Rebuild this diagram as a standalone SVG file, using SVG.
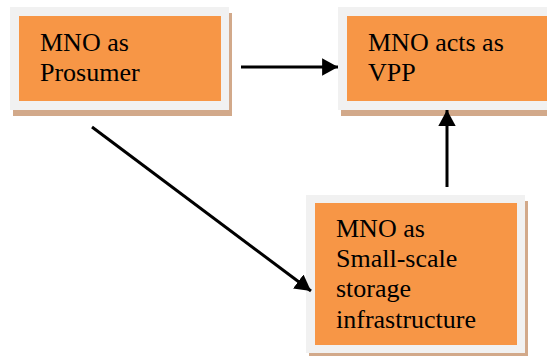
<svg xmlns="http://www.w3.org/2000/svg" width="547" height="356" viewBox="0 0 547 356">
<style>
.shadow{fill:#d2a98a;}
.frame{fill:#f1f1f1;}
.fill{fill:#f79646;}
.t{font-family:"Liberation Serif","Times New Roman",serif;font-size:26px;fill:#000;}
.c{stroke:#000;stroke-width:3;fill:none;}
</style>
<defs>
<marker id="ah" viewBox="0 0 10 10" refX="10" refY="5" markerWidth="5.3" markerHeight="5.8" markerUnits="strokeWidth" orient="auto" preserveAspectRatio="none">
<path d="M0,0 L10,5 L0,10 z" fill="#000"/>
</marker>
</defs>
<rect width="547" height="356" fill="#fff"/>
<g id="n1">
<rect class="shadow" x="13" y="13" width="219" height="103"/>
<rect class="frame" x="10" y="7" width="219" height="103"/>
<rect class="fill" x="19" y="16" width="202" height="85"/>
<text class="t" x="40" y="51">MNO as</text>
<text class="t" x="40" y="81">Prosumer</text>
</g>
<g id="n2">
<rect class="shadow" x="341" y="13" width="206" height="103"/>
<rect class="frame" x="338" y="7" width="209" height="103"/>
<rect class="fill" x="347" y="16" width="200" height="85"/>
<text class="t" x="368" y="51">MNO acts as</text>
<text class="t" x="368" y="81">VPP</text>
</g>
<g id="n3">
<rect class="shadow" x="309" y="201" width="219" height="155"/>
<rect class="frame" x="306" y="195" width="219" height="158"/>
<rect class="fill" x="315" y="203" width="202" height="142"/>
<text class="t" x="336" y="237">MNO as</text>
<text class="t" x="336" y="267">Small-scale</text>
<text class="t" x="336" y="297">storage</text>
<text class="t" x="336" y="328">infrastructure</text>
</g>
<g id="connectors">
<line class="c" x1="241" y1="67" x2="338" y2="67" marker-end="url(#ah)"/>
<line class="c" x1="447" y1="187" x2="447" y2="110" marker-end="url(#ah)"/>
<line class="c" x1="92" y1="127" x2="311" y2="291" marker-end="url(#ah)"/>
</g>
</svg>
